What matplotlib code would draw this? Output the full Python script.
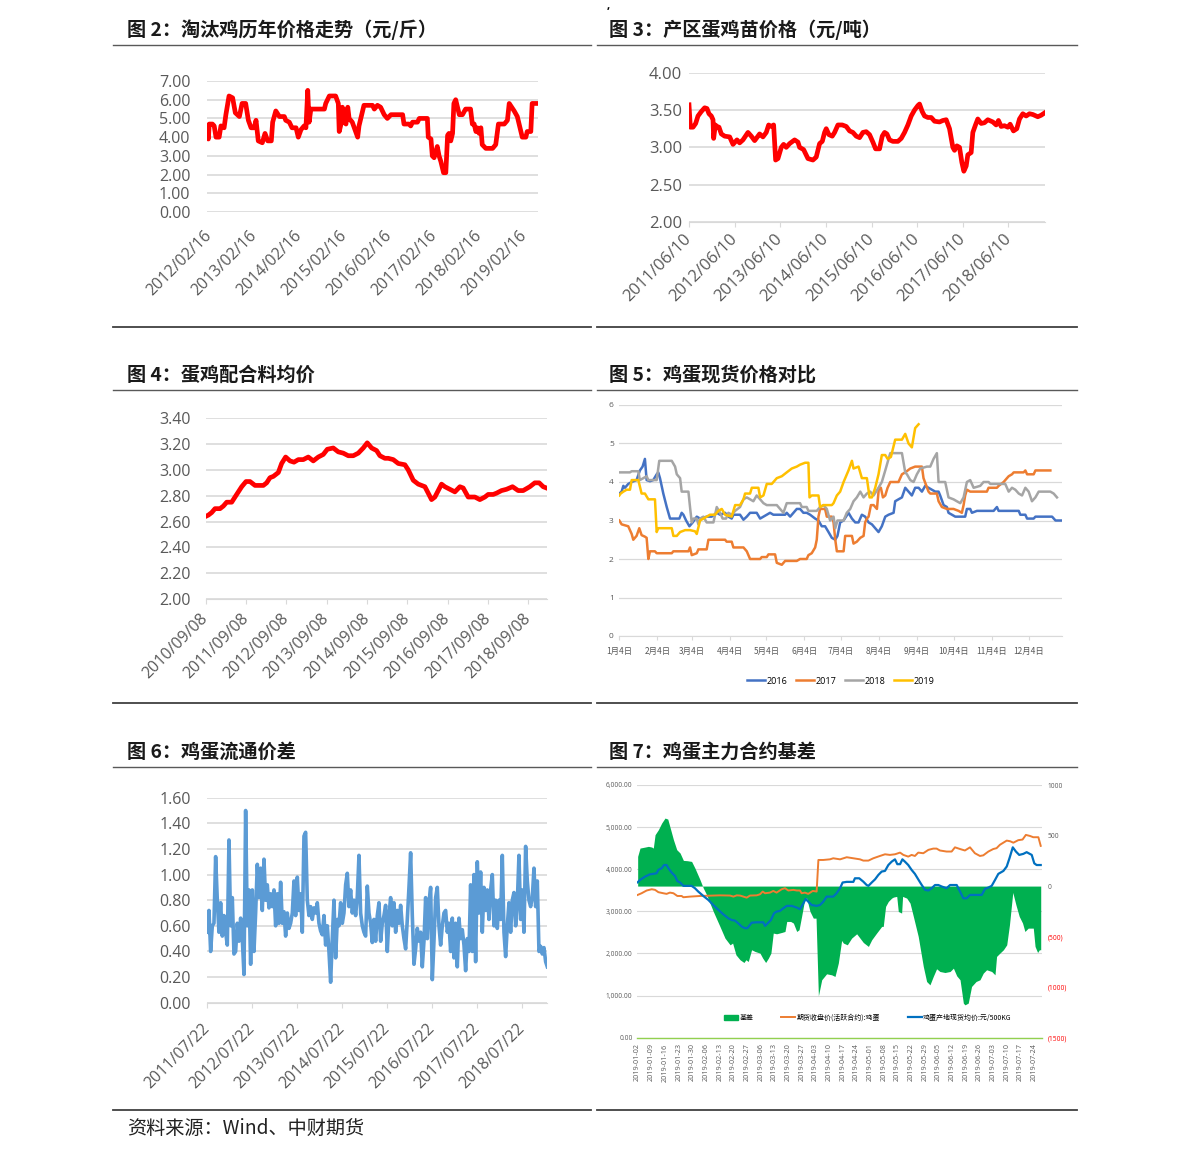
import numpy as np
import pandas as pd
import matplotlib
matplotlib.use('Agg')
import matplotlib.pyplot as plt
from matplotlib.lines import Line2D
from matplotlib.patches import Patch

plt.rcParams['font.family'] = ['Open Sans', 'Noto Sans CJK SC', 'DejaVu Sans']
CJK = ['Noto Sans CJK SC', 'DejaVu Sans']

# ---------------- data ----------------
# fig 2: culled hen price, x in decimal years
yrs2 = [2012.08, 2012.11, 2012.13, 2012.20, 2012.24, 2012.28, 2012.35, 2012.39, 2012.46, 2012.50,
        2012.57, 2012.65, 2012.71, 2012.80, 2012.86, 2012.94, 2013.00, 2013.06, 2013.13, 2013.17,
        2013.22, 2013.31, 2013.37, 2013.43, 2013.51, 2013.54, 2013.61, 2013.69, 2013.80, 2013.83,
        2013.91, 2013.97, 2014.06, 2014.11, 2014.17, 2014.24, 2014.28, 2014.32, 2014.35, 2014.39,
        2014.57, 2014.69, 2014.72, 2014.80, 2014.87, 2014.94, 2015.00, 2015.02, 2015.06, 2015.09,
        2015.13, 2015.17, 2015.21, 2015.24, 2015.31, 2015.43, 2015.46, 2015.51, 2015.57, 2015.76,
        2015.80, 2015.87, 2015.94, 2016.02, 2016.09, 2016.17, 2016.43, 2016.46, 2016.57, 2016.61,
        2016.65, 2016.76, 2016.80, 2016.98, 2017.00, 2017.06, 2017.09, 2017.13, 2017.20, 2017.24,
        2017.28, 2017.34, 2017.39, 2017.43, 2017.46, 2017.50, 2017.54, 2017.57, 2017.61, 2017.65,
        2017.69, 2017.76, 2017.83, 2017.94, 2017.98, 2018.02, 2018.06, 2018.09, 2018.13, 2018.17,
        2018.20, 2018.28, 2018.43, 2018.50, 2018.56, 2018.69, 2018.76, 2018.80, 2018.91, 2018.98,
        2019.09, 2019.17, 2019.20, 2019.28, 2019.31, 2019.44]
vals2 = [4.6, 3.9, 4.7, 4.7, 4.6, 4.0, 4.0, 4.6, 4.5, 5.2, 6.2, 6.1, 5.3, 5.1, 5.8, 5.8, 4.9, 4.5, 4.5, 4.9,
         3.8, 3.7, 4.2, 3.8, 3.8, 4.8, 5.4, 5.1, 5.1, 4.9, 4.8, 4.5, 4.5, 4.0, 4.4, 4.6, 4.5, 6.5, 4.8, 5.5,
         5.5, 5.5, 5.8, 6.2, 6.2, 6.2, 5.8, 4.3, 4.7, 5.6, 4.8, 4.7, 5.6, 5.0, 4.8, 4.0, 4.6, 5.1, 5.7, 5.7,
         5.5, 5.7, 5.6, 5.2, 5.0, 5.2, 5.2, 4.7, 4.7, 4.6, 4.8, 4.8, 5.0, 5.0, 4.0, 3.9, 3.0, 2.9, 3.5, 3.0,
         2.7, 2.1, 2.1, 4.1, 4.2, 3.8, 4.2, 5.8, 6.0, 5.6, 5.2, 5.2, 5.5, 5.5, 4.7, 4.7, 4.3, 4.5, 4.2, 4.5,
         3.6, 3.4, 3.4, 3.6, 4.7, 4.7, 4.9, 5.8, 5.4, 5.1, 4.0, 4.0, 4.3, 4.3, 5.8, 5.8]
labels2 = ['2012/02/16', '2013/02/16', '2014/02/16', '2015/02/16',
           '2016/02/16', '2017/02/16', '2018/02/16', '2019/02/16']

# fig 3: chick price, x in years after 2011/06/10
off3 = [0.000, 0.029, 0.088, 0.146, 0.197, 0.270, 0.343, 0.394, 0.438, 0.489, 0.526, 0.540, 0.577, 0.613,
        0.657, 0.708, 0.781, 0.891, 0.964, 1.051, 1.109, 1.182, 1.292, 1.365, 1.438, 1.511, 1.547, 1.620,
        1.693, 1.745, 1.803, 1.854, 1.898, 1.949, 2.022, 2.073, 2.131, 2.204, 2.314, 2.387, 2.423, 2.511,
        2.606, 2.715, 2.788, 2.861, 2.920, 2.971, 3.007, 3.066, 3.139, 3.190, 3.263, 3.358, 3.445, 3.518,
        3.591, 3.664, 3.737, 3.810, 3.883, 3.956, 4.029, 4.088, 4.175, 4.234, 4.285, 4.336, 4.394, 4.467,
        4.577, 4.650, 4.723, 4.796, 4.869, 4.942, 5.015, 5.051, 5.109, 5.161, 5.234, 5.307, 5.380, 5.489,
        5.562, 5.635, 5.708, 5.781, 5.818, 5.869, 5.927, 5.978, 6.022, 6.073, 6.109, 6.182, 6.219, 6.277,
        6.328, 6.401, 6.474, 6.547, 6.657, 6.730, 6.781, 6.839, 6.912, 6.985, 7.036, 7.109, 7.182, 7.241,
        7.314, 7.387, 7.460, 7.533, 7.642, 7.715, 7.788]
vals3 = [3.57, 3.27, 3.27, 3.32, 3.42, 3.48, 3.53, 3.52, 3.45, 3.42, 3.37, 3.12, 3.30, 3.28, 3.27, 3.18,
         3.15, 3.14, 3.04, 3.10, 3.06, 3.10, 3.20, 3.15, 3.09, 3.15, 3.18, 3.14, 3.20, 3.30, 3.28, 3.30,
         2.83, 2.85, 3.00, 3.04, 3.00, 3.05, 3.10, 3.07, 3.00, 2.97, 2.85, 2.83, 2.87, 3.05, 3.08, 3.20,
         3.25, 3.17, 3.15, 3.20, 3.30, 3.30, 3.28, 3.22, 3.20, 3.15, 3.13, 3.20, 3.21, 3.17, 3.07, 2.98,
         2.98, 3.15, 3.20, 3.18, 3.10, 3.08, 3.08, 3.12, 3.20, 3.30, 3.42, 3.50, 3.56, 3.58, 3.48, 3.42,
         3.40, 3.40, 3.35, 3.34, 3.36, 3.37, 3.25, 3.00, 2.96, 3.02, 3.00, 2.80, 2.68, 2.75, 2.90, 2.93,
         3.20, 3.30, 3.38, 3.32, 3.33, 3.37, 3.34, 3.30, 3.36, 3.28, 3.29, 3.27, 3.31, 3.22, 3.25, 3.38,
         3.45, 3.42, 3.45, 3.44, 3.41, 3.43, 3.46]
labels3 = ['2011/06/10', '2012/06/10', '2013/06/10', '2014/06/10',
           '2015/06/10', '2016/06/10', '2017/06/10', '2018/06/10']

# fig 4: layer feed price, x in years after 2010/09/08
off4 = [0, 0.066, 0.149, 0.231, 0.355, 0.438, 0.521, 0.645, 0.727, 0.810, 0.893, 1.000, 1.099, 1.223,
        1.430, 1.512, 1.595, 1.678, 1.802, 1.884, 1.983, 2.091, 2.190, 2.298, 2.421, 2.545, 2.669, 2.793,
        2.917, 3.017, 3.165, 3.289, 3.413, 3.537, 3.661, 3.785, 3.909, 4.008, 4.116, 4.240, 4.322, 4.446,
        4.529, 4.653, 4.777, 4.942, 5.025, 5.149, 5.273, 5.438, 5.521, 5.603, 5.686, 5.769, 5.851, 5.934,
        6.058, 6.182, 6.306, 6.388, 6.512, 6.678, 6.802, 6.926, 7.008, 7.132, 7.215, 7.339, 7.463, 7.612,
        7.752, 7.876, 8.041, 8.165, 8.273, 8.372, 8.455]
vals4 = [2.64, 2.65, 2.67, 2.70, 2.70, 2.72, 2.75, 2.75, 2.79, 2.83, 2.87, 2.91, 2.91, 2.88, 2.88, 2.90,
         2.94, 2.95, 2.98, 3.05, 3.10, 3.07, 3.06, 3.08, 3.08, 3.10, 3.07, 3.10, 3.12, 3.16, 3.17, 3.14,
         3.13, 3.11, 3.11, 3.13, 3.17, 3.21, 3.17, 3.15, 3.11, 3.09, 3.09, 3.08, 3.05, 3.04, 3.00, 2.92,
         2.89, 2.87, 2.82, 2.77, 2.79, 2.84, 2.89, 2.87, 2.85, 2.83, 2.87, 2.86, 2.79, 2.79, 2.77, 2.79,
         2.81, 2.81, 2.82, 2.84, 2.85, 2.87, 2.84, 2.84, 2.87, 2.90, 2.90, 2.87, 2.86]
labels4 = ['2010/09/08', '2011/09/08', '2012/09/08', '2013/09/08', '2014/09/08',
           '2015/09/08', '2016/09/08', '2017/09/08', '2018/09/08']

# fig 5: spot egg price by year, x = day of year
d16 = [4.0, 5.9, 7.3, 8.6, 11.3, 14.1, 18.1, 20.8, 23.0, 24.9, 26.3, 29.0, 31.7, 34.5, 35.8, 37.2, 39.9,
       42.7, 45.4, 48.1, 53.0, 54.9, 56.3, 58.5, 61.2, 63.9, 67.2, 69.9, 75.3, 79.4, 83.5, 86.2, 90.3,
       93.0, 95.7, 97.1, 102.5, 105.3, 108.0, 110.7, 116.1, 118.9, 121.6, 124.3, 127.0, 129.7, 131.1,
       135.2, 139.3, 140.6, 143.4, 146.1, 148.8, 151.5, 154.2, 156.9, 159.7, 163.8, 166.5, 169.2, 171.9,
       174.7, 177.4, 180.2, 182.0, 184.2, 187.0, 191.0, 193.8, 196.5, 199.2, 201.9, 204.6, 207.4, 210.1,
       212.8, 215.5, 218.2, 221.0, 223.7, 227.8, 229.1, 231.8, 234.6, 237.3, 240.0, 242.7, 245.4, 248.2,
       250.9, 253.6, 256.3, 259.0, 261.8, 264.5, 265.8, 268.6, 271.3, 272.6, 275.4, 278.1, 286.2, 287.6,
       290.3, 291.7, 295.8, 298.5, 309.4, 312.1, 313.5, 329.9, 331.2, 335.3, 336.7, 342.1, 343.5, 357.1,
       359.9, 365.2]
v16 = [3.7, 3.75, 3.9, 3.85, 3.95, 4.0, 4.05, 4.3, 4.4, 4.6, 4.05, 4.02, 4.05, 4.2, 4.25, 4.1, 3.7, 3.35,
       3.05, 3.05, 3.05, 3.2, 3.15, 3.0, 2.85, 2.95, 3.1, 3.05, 3.1, 3.1, 3.2, 3.15, 3.2, 3.1, 3.05, 3.15,
       3.15, 3.02, 3.1, 3.2, 3.2, 3.05, 3.1, 3.15, 3.2, 3.15, 3.15, 3.15, 3.15, 3.2, 3.1, 3.2, 3.3, 3.3,
       3.2, 3.2, 3.15, 3.05, 3.0, 2.85, 2.85, 2.7, 2.55, 2.5, 2.6, 2.95, 3.0, 3.2, 3.05, 2.95, 2.95, 3.15,
       3.1, 2.95, 2.9, 2.8, 2.7, 2.85, 3.1, 3.15, 3.2, 3.5, 3.55, 3.6, 3.85, 3.75, 3.65, 3.85, 3.85, 3.75,
       3.9, 3.85, 3.8, 3.75, 3.75, 3.65, 3.4, 3.35, 3.2, 3.15, 3.1, 3.1, 3.3, 3.3, 3.2, 3.25, 3.25, 3.25,
       3.35, 3.25, 3.25, 3.15, 3.15, 3.05, 3.05, 3.1, 3.1, 3.0, 3.0]
d17 = [4.0, 5.9, 11.3, 14.1, 15.4, 18.1, 20.3, 22.2, 24.9, 26.3, 27.7, 29.0, 33.1, 34.5, 46.8, 48.1, 60.4,
       61.7, 63.1, 67.2, 68.5, 75.3, 76.7, 90.3, 91.6, 95.7, 97.1, 105.3, 108.0, 110.7, 118.9, 120.2,
       124.3, 125.7, 131.1, 132.5, 136.6, 139.3, 148.8, 151.5, 156.9, 158.3, 161.0, 163.8, 165.1, 166.5,
       167.8, 171.9, 173.3, 177.4, 178.8, 180.2, 181.5, 187.0, 188.3, 193.8, 195.1, 197.8, 200.6, 203.3,
       204.6, 206.0, 207.4, 209.3, 211.5, 214.2, 215.8, 217.4, 219.1, 221.0, 222.9, 225.1, 231.8, 234.6,
       237.3, 241.4, 245.4, 250.9, 252.2, 256.3, 257.7, 263.1, 264.5, 267.2, 271.3, 276.7, 280.8, 283.5,
       284.9, 286.2, 287.6, 290.3, 303.9, 305.3, 312.1, 313.5, 317.6, 320.3, 321.7, 324.4, 325.8, 333.9,
       335.3, 336.7, 342.1, 343.5, 355.7]
v17 = [3.0, 2.9, 2.85, 2.65, 2.5, 2.6, 2.8, 2.62, 2.58, 2.55, 2.0, 2.2, 2.2, 2.15, 2.15, 2.2, 2.2, 2.3,
       2.1, 2.15, 2.25, 2.25, 2.5, 2.5, 2.45, 2.45, 2.3, 2.3, 2.2, 2.0, 2.0, 2.05, 2.05, 2.12, 2.12, 1.9,
       1.85, 1.95, 1.95, 2.0, 2.0, 2.1, 2.15, 2.3, 2.5, 3.1, 3.3, 3.3, 3.1, 3.1, 2.95, 2.5, 2.2, 2.2, 2.6,
       2.6, 2.4, 2.45, 2.55, 2.6, 2.95, 3.05, 3.1, 3.4, 3.4, 3.3, 3.85, 3.85, 3.6, 3.65, 3.85, 4.0, 4.0,
       4.2, 4.25, 4.35, 4.4, 4.4, 4.1, 3.75, 3.7, 3.7, 3.5, 3.35, 3.3, 3.3, 3.25, 3.2, 3.4, 3.65, 3.8,
       3.75, 3.75, 3.85, 3.85, 3.9, 4.0, 4.1, 4.15, 4.2, 4.25, 4.25, 4.3, 4.2, 4.2, 4.3, 4.3]
d18 = [4.0, 12.7, 14.1, 19.5, 20.8, 23.6, 26.3, 27.7, 34.5, 36.6, 46.8, 49.5, 50.9, 53.6, 54.9, 60.4,
       61.7, 63.1, 64.5, 67.2, 68.5, 69.9, 72.6, 75.3, 80.8, 83.5, 86.2, 88.3, 91.1, 93.0, 95.7, 98.5,
       102.5, 105.3, 108.0, 110.7, 113.4, 116.1, 118.9, 121.6, 124.3, 132.5, 135.2, 137.9, 140.6, 151.5,
       152.9, 156.9, 158.3, 165.1, 167.8, 170.6, 173.3, 176.0, 178.8, 180.2, 182.0, 187.0, 189.6, 192.4,
       195.1, 197.8, 200.6, 203.3, 206.0, 208.7, 211.5, 215.5, 218.2, 221.0, 223.7, 225.1, 234.6, 237.3,
       238.7, 241.4, 244.1, 246.8, 249.5, 255.0, 257.7, 260.4, 263.1, 264.5, 269.9, 272.6, 276.7, 279.4,
       282.2, 284.9, 287.6, 290.3, 293.1, 298.5, 301.2, 305.3, 306.7, 318.9, 321.7, 324.4, 327.1, 329.9,
       332.6, 335.3, 338.0, 340.7, 343.5, 346.2, 355.7, 358.4, 361.1]
v18 = [4.25, 4.25, 4.28, 4.28, 4.05, 4.1, 4.15, 4.05, 4.05, 4.55, 4.55, 4.4, 4.2, 4.1, 3.75, 3.75, 3.35,
       2.95, 3.05, 3.05, 2.9, 3.05, 3.1, 2.95, 2.95, 3.35, 3.2, 3.05, 3.05, 3.2, 3.15, 3.25, 3.35, 3.55,
       3.6, 3.55, 3.5, 3.65, 3.55, 3.45, 3.4, 3.4, 3.3, 3.2, 3.45, 3.45, 3.35, 3.35, 3.25, 3.25, 3.35, 3.4,
       3.3, 3.0, 3.1, 2.8, 3.0, 3.0, 3.2, 3.3, 3.5, 3.6, 3.75, 3.6, 3.7, 3.75, 3.65, 3.85, 4.0, 4.3, 4.6,
       4.75, 4.75, 4.25, 4.2, 4.05, 4.0, 4.2, 4.35, 4.4, 4.4, 4.6, 4.75, 4.0, 4.0, 3.6, 3.55, 3.5, 3.45,
       3.6, 4.0, 4.05, 3.85, 3.9, 4.0, 4.0, 3.95, 3.95, 3.75, 3.85, 3.8, 3.7, 3.65, 3.85, 3.75, 3.5, 3.6,
       3.75, 3.75, 3.7, 3.6]
d19 = [4.0, 5.1, 7.3, 10.0, 12.7, 14.1, 19.5, 22.2, 24.9, 27.7, 33.1, 34.5, 35.8, 46.8, 48.1, 50.9, 53.6,
       57.7, 61.7, 65.8, 67.2, 69.9, 75.3, 78.0, 82.1, 84.8, 87.6, 90.3, 95.7, 98.5, 102.5, 105.3, 106.6,
       110.7, 112.1, 117.5, 118.9, 121.6, 124.3, 128.4, 132.5, 136.6, 140.6, 144.7, 148.8, 151.5, 155.6,
       158.3, 159.2, 161.0, 166.5, 167.8, 170.6, 177.4, 178.8, 181.5, 184.2, 187.0, 191.0, 193.8, 195.1,
       199.2, 201.9, 206.0, 208.2, 210.1, 212.8, 215.5, 218.2, 221.0, 222.9, 225.6, 229.1, 234.6, 237.3,
       240.0, 242.7, 245.4, 248.2]
v19 = [3.65, 3.7, 3.75, 3.8, 3.8, 4.05, 4.05, 3.7, 3.7, 3.55, 3.55, 2.7, 2.8, 2.8, 2.6, 2.6, 2.7, 2.75,
       2.75, 2.72, 2.65, 3.0, 3.1, 3.15, 3.15, 3.25, 3.3, 3.15, 3.1, 3.4, 3.4, 3.55, 3.7, 3.7, 3.85, 3.85,
       3.6, 3.65, 3.95, 3.95, 4.1, 4.15, 4.25, 4.35, 4.4, 4.45, 4.5, 4.5, 3.6, 3.65, 3.65, 3.35, 3.4, 3.4,
       3.45, 3.65, 3.75, 4.0, 4.3, 4.55, 4.35, 4.4, 4.1, 4.1, 3.6, 3.6, 3.85, 4.2, 4.7, 4.7, 4.6, 4.65,
       5.1, 5.1, 5.25, 5.0, 4.9, 5.4, 5.5]
month_days5 = [4, 35, 63, 94, 124, 155, 185, 216, 247, 277, 308, 338]
month_labels5 = ['1月4日', '2月4日', '3月4日', '4月4日', '5月4日', '6月4日',
                 '7月4日', '8月4日', '9月4日', '10月4日', '11月4日', '12月4日']

# fig 6: circulation spread, roughly bi-weekly, 2011/07/22 .. 2019/02
vals6 = [0.55, 0.72, 0.40, 0.60, 0.62, 1.14, 0.80, 0.55, 0.78, 0.52, 0.68, 0.55, 0.45, 1.27, 0.60, 0.82,
         0.38, 0.40, 0.62, 0.48, 0.66, 0.50, 0.22, 1.50, 0.60, 0.88, 0.30, 0.88, 0.40, 0.70, 1.08, 0.82,
         1.05, 0.72, 1.12, 0.80, 0.92, 0.74, 0.85, 0.75, 0.88, 0.60, 0.85, 0.62, 0.94, 0.62, 0.71, 0.52,
         0.70, 0.58, 0.62, 0.70, 0.95, 0.68, 0.98, 0.72, 0.85, 0.55, 1.30, 1.33, 0.80, 0.68, 0.75, 0.65,
         0.74, 0.70, 0.78, 0.62, 0.56, 0.53, 0.68, 0.45, 0.60, 0.40, 0.16, 0.50, 0.80, 0.35, 0.65, 0.60,
         0.78, 0.62, 0.70, 0.92, 1.01, 0.75, 0.88, 0.70, 0.80, 0.68, 0.83, 1.15, 0.70, 0.60, 0.55, 0.52,
         0.91, 0.70, 0.62, 0.47, 0.65, 0.48, 0.68, 0.78, 0.48, 0.62, 0.68, 0.76, 0.40, 0.68, 0.82, 0.60,
         0.78, 0.55, 0.72, 0.62, 0.76, 0.60, 0.50, 0.42, 0.65, 0.90, 1.17, 0.68, 0.30, 0.42, 0.58, 0.48,
         0.55, 0.28, 0.48, 0.82, 0.50, 0.78, 0.90, 0.18, 0.48, 0.82, 0.90, 0.60, 0.45, 0.60, 0.70, 0.72,
         0.55, 0.62, 0.40, 0.66, 0.35, 0.62, 0.28, 0.66, 0.50, 0.57, 0.45, 0.25, 0.50, 0.40, 0.92, 0.40,
         1.00, 0.32, 1.10, 0.70, 1.02, 0.55, 0.90, 0.72, 0.88, 0.65, 0.88, 1.00, 0.60, 0.80, 0.58, 0.80,
         0.65, 1.15, 0.55, 0.36, 0.60, 0.78, 0.55, 0.80, 0.86, 0.60, 0.78, 1.15, 0.65, 0.88, 0.55, 1.22,
         0.95, 0.80, 0.75, 0.82, 1.05, 0.75, 0.95, 0.40, 0.44, 0.38, 0.43, 0.32, 0.28]
span6 = 7.56  # years covered by the weekly series
labels6 = ['2011/07/22', '2012/07/22', '2013/07/22', '2014/07/22',
           '2015/07/22', '2016/07/22', '2017/07/22', '2018/07/22']

# fig 7: futures / spot / basis, x in days after 2019-01-02
d_spot = [0.0, 1.2, 3.8, 6.3, 8.0, 9.7, 10.6, 12.3, 13.5, 14.8, 15.7, 17.4, 19.1, 20.3, 21.7, 23.4, 25.1,
          27.6, 29.3, 31.0, 33.6, 36.2, 38.7, 41.3, 43.8, 46.4, 48.1, 49.8, 51.5, 53.2, 54.9, 56.1, 57.5,
          58.3, 60.9, 64.3, 65.2, 66.5, 68.2, 69.8, 71.1, 72.8, 74.6, 76.3, 78.8, 81.4, 83.1, 84.8, 86.0,
          87.3, 89.1, 91.6, 93.3, 95.0, 96.7, 100.1, 101.8, 103.6, 104.9, 107.0, 110.4, 111.2, 113.4,
          115.5, 117.2, 118.1, 119.8, 121.5, 123.2, 124.9, 126.6, 128.3, 130.0, 131.7, 132.9, 134.3,
          135.5, 136.8, 138.5, 140.2, 141.9, 143.6, 145.4, 147.1, 148.8, 150.5, 152.2, 153.9, 155.6,
          158.1, 159.9, 163.3, 165.0, 166.7, 168.4, 170.1, 173.5, 176.1, 177.8, 179.5, 181.2, 182.9,
          184.6, 187.2, 188.9, 190.3, 192.0, 193.6, 195.3, 197.4, 199.1, 201.7, 203.0, 204.2, 206.3]
spot = [3690, 3745, 3825, 3880, 3890, 3905, 3985, 4025, 4100, 4100, 4025, 3920, 3840, 3720, 3685, 3605,
        3605, 3605, 3550, 3470, 3365, 3270, 3150, 3035, 2930, 2835, 2795, 2780, 2715, 2640, 2600, 2600,
        2680, 2730, 2740, 2740, 2655, 2715, 2795, 2955, 2995, 3010, 3075, 3130, 3130, 3090, 3050, 3190,
        3295, 3230, 3150, 3130, 3150, 3230, 3350, 3350, 3430, 3550, 3685, 3700, 3700, 3785, 3785, 3705,
        3625, 3605, 3685, 3760, 3865, 3945, 3960, 4100, 4180, 4235, 4120, 4120, 4235, 4180, 4100, 3985,
        3890, 3760, 3625, 3510, 3495, 3550, 3625, 3625, 3590, 3550, 3625, 3625, 3470, 3310, 3310, 3390,
        3390, 3390, 3535, 3565, 3605, 3745, 3890, 3960, 4065, 4260, 4520, 4420, 4340, 4365, 4405, 4340,
        4140, 4100, 4100]
d_fut = [0.0, 2.0, 4.6, 7.2, 8.9, 10.6, 13.1, 14.8, 16.5, 18.3, 20.3, 22.5, 23.4, 26.8, 31.9, 38.7, 42.1,
         47.3, 49.0, 50.7, 52.4, 54.1, 55.8, 57.5, 60.9, 62.6, 64.0, 65.2, 67.7, 69.4, 71.1, 73.7, 75.4,
         77.1, 79.7, 81.4, 83.1, 83.9, 85.6, 87.3, 89.6, 91.6, 92.5, 95.0, 98.4, 100.1, 103.6, 107.0,
         110.4, 113.8, 115.5, 118.1, 120.6, 124.0, 126.6, 129.1, 131.7, 134.3, 136.0, 138.5, 140.2, 141.9,
         143.6, 146.2, 148.8, 151.3, 153.0, 154.7, 158.1, 160.7, 162.4, 165.0, 167.5, 170.1, 172.6, 175.2,
         176.9, 179.5, 182.0, 183.7, 185.4, 188.9, 190.6, 192.3, 194.8, 197.0, 198.7, 200.8, 202.5, 205.1,
         206.3]
fut = [3390, 3430, 3495, 3525, 3510, 3455, 3430, 3415, 3445, 3430, 3365, 3365, 3335, 3350, 3365, 3375,
       3380, 3375, 3350, 3380, 3375, 3350, 3325, 3375, 3380, 3405, 3470, 3430, 3445, 3485, 3445, 3525,
       3550, 3495, 3510, 3495, 3495, 3430, 3445, 3415, 3485, 3470, 4220, 4220, 4235, 4260, 4235, 4285,
       4260, 4235, 4205, 4205, 4260, 4315, 4355, 4340, 4355, 4395, 4340, 4300, 4340, 4315, 4395, 4380,
       4460, 4490, 4490, 4445, 4420, 4420, 4520, 4480, 4445, 4520, 4380, 4315, 4330, 4420, 4480, 4500,
       4580, 4680, 4665, 4630, 4690, 4705, 4815, 4790, 4760, 4760, 4555]
d_basis = [0.0, 1.2, 3.8, 5.5, 7.2, 8.0, 8.9, 10.6, 12.3, 14.0, 15.4, 16.9, 18.3, 20.0, 21.7, 23.4, 25.4,
           27.6, 29.3, 31.9, 33.6, 35.3, 38.7, 42.1, 44.7, 47.3, 48.6, 50.3, 52.4, 54.4, 55.4, 56.6, 58.3,
           60.1, 62.6, 64.0, 65.5, 66.9, 68.2, 69.4, 71.1, 73.7, 75.4, 76.3, 78.3, 79.7, 81.4, 82.6, 83.9,
           85.6, 86.5, 88.2, 89.9, 91.3, 92.5, 94.2, 96.7, 99.3, 101.0, 102.7, 104.4, 105.3, 107.3, 109.5,
           112.1, 113.8, 115.5, 118.1, 119.8, 122.3, 124.9, 125.7, 126.9, 128.3, 130.0, 130.9, 132.6,
           133.4, 135.1, 135.6, 137.7, 139.4, 141.1, 143.6, 146.2, 147.9, 149.6, 151.3, 153.0, 154.7,
           157.3, 159.9, 161.6, 163.3, 165.0, 166.7, 167.5, 169.2, 170.9, 173.2, 175.2, 176.9, 178.6,
           181.2, 182.9, 183.7, 185.4, 187.2, 188.9, 190.3, 192.0, 193.6, 195.3, 197.0, 198.2, 199.9,
           202.5, 203.4, 204.7, 205.6, 206.3]
basis = [294, 376, 386, 393, 386, 376, 508, 558, 624, 673, 663, 558, 459, 360, 327, 254, 251, 244, 178,
         63, -20, -86, -251, -399, -515, -581, -564, -680, -729, -756, -729, -746, -630, -647, -663, -713,
         -756, -713, -663, -465, -472, -459, -449, -350, -350, -366, -449, -432, -300, -119, -119, -251,
         -317, -317, -1086, -927, -868, -878, -894, -762, -538, -564, -581, -515, -472, -515, -558, -597,
         -531, -465, -399, -399, -201, -152, -119, -109, -102, -251, -267, -102, -119, -168, -300, -498,
         -795, -944, -977, -894, -818, -845, -855, -845, -812, -888, -927, -1158, -1175, -1158, -993,
         -944, -927, -861, -828, -845, -878, -696, -663, -630, -581, -383, -63, -185, -300, -366, -449,
         -416, -416, -597, -657, -630, -630]
dates7 = pd.date_range('2019-01-02', periods=30, freq='7D')

# ---------------- figure ----------------
W, H = 1191, 1158
fig = plt.figure(figsize=(W / 100, H / 100), dpi=100)
GRID = '#d9d9d9'
TXT = '#595959'


def box(l, t, r, b):
    return [l / W, 1 - b / H, (r - l) / W, (b - t) / H]


def hline(y, x0, x1, lw=1.2, color='#404040'):
    fig.add_artist(Line2D([x0 / W, x1 / W], [1 - y / H, 1 - y / H], transform=fig.transFigure,
                          color=color, lw=lw))


def line_chart(rect, x, y, xlim, ylim, yticks, xticks, xlabels, color='#FF0000', lw=3.4,
               ticks=True, xpad=8, ypad=11, fs=11.5):
    n = min(len(x), len(y))
    ax = fig.add_axes(rect)
    ax.plot(x[:n], y[:n], color=color, lw=lw, solid_joinstyle='round')
    ax.set_xlim(xlim)
    ax.set_ylim(ylim)
    ax.set_yticks(yticks)
    ax.set_yticklabels([f'{v:.2f}' for v in yticks])
    ax.yaxis.grid(True, color=GRID, lw=1.2)
    ax.set_axisbelow(True)
    for s in ax.spines.values():
        s.set_visible(False)
    if ticks:
        ax.spines['bottom'].set_visible(True)
        ax.spines['bottom'].set_color(GRID)
    ax.set_xticks(xticks)
    ax.set_xticklabels(xlabels, rotation=45, ha='right', va='center', rotation_mode='anchor')
    ax.tick_params(axis='y', length=0, pad=ypad, labelsize=fs, labelcolor=TXT)
    ax.tick_params(axis='x', length=3.6 if ticks else 0, color=GRID, pad=xpad,
                   labelsize=fs, labelcolor=TXT)
    return ax


# fig 2
line_chart(box(207, 81, 538, 212), yrs2, vals2, (2012.08, 2019.44), (0, 7),
           np.arange(0, 7.01, 1.0), [2012.13 + k for k in range(8)], labels2,
           ticks=False, xpad=15, ypad=12)
# fig 3
line_chart(box(689, 72.7, 1045, 222), off3, vals3, (0, 7.8), (2, 4),
           np.arange(2, 4.01, 0.5), list(range(8)), labels3, xpad=7, ypad=5, fs=12)
# fig 4
line_chart(box(205.7, 418.3, 546.7, 599), off4, vals4, (0, 8.46), (2, 3.4),
           np.arange(2, 3.41, 0.2), list(range(9)), labels4, xpad=8.5, ypad=11)
# fig 6
x6 = np.linspace(0, span6, len(vals6))
line_chart(box(207.3, 797.7, 547.3, 1002.7), x6, vals6, (0, span6), (0, 1.6),
           np.arange(0, 1.61, 0.2), list(range(8)), labels6, color='#5B9BD5', lw=2.6,
           xpad=13, ypad=12)

# fig 5
ax5 = fig.add_axes(box(619.3, 405, 1062, 636))
for xs, ys, c, lab in [(d16, v16, '#4472C4', '2016'), (d17, v17, '#ED7D31', '2017'),
                       (d18, v18, '#A5A5A5', '2018'), (d19, v19, '#FFC000', '2019')]:
    n = min(len(xs), len(ys))
    ax5.plot(xs[:n], ys[:n], color=c, lw=1.8, label=lab)
ax5.set_xlim(4, 365.2)
ax5.set_ylim(0, 6)
ax5.set_yticks(range(7))
ax5.yaxis.grid(True, color=GRID, lw=0.9)
ax5.set_axisbelow(True)
for s in ax5.spines.values():
    s.set_visible(False)
ax5.spines['bottom'].set_visible(True)
ax5.spines['bottom'].set_color(GRID)
ax5.set_xticks(month_days5)
ax5.set_xticklabels(month_labels5, family=CJK)
ax5.tick_params(axis='y', length=0, pad=4, labelsize=6, labelcolor=TXT)
ax5.tick_params(axis='x', length=3, color=GRID, pad=5, labelsize=6, labelcolor=TXT)
ax5.legend(loc='center', bbox_to_anchor=(0.5, -0.195), ncol=4, frameon=False, fontsize=6.5,
           handlelength=2.0, handletextpad=0.15, columnspacing=1.0)

# fig 7
rect7 = box(636.7, 785, 1041.7, 1037.7)
ax7 = fig.add_axes(rect7)
ax7.set_xlim(-0.5, 206.8)
ax7.set_ylim(0, 6000)
ax7.set_yticks(np.arange(0, 6001, 1000))
ax7.set_yticklabels([f'{v:,.2f}' for v in np.arange(0, 6001, 1000)])
ax7.yaxis.grid(True, color=GRID, lw=0.8)
for s in ax7.spines.values():
    s.set_visible(False)
ax7.spines['bottom'].set_visible(True)
ax7.spines['bottom'].set_color('#92D050')
ax7.spines['bottom'].set_linewidth(1.0)
ax7.set_xticks([7 * k for k in range(len(dates7))])
ax7.set_xticklabels(dates7.strftime('%Y-%m-%d'), rotation=90, va='top', ha='center')
ax7.tick_params(axis='y', length=0, pad=3, labelsize=4.8, labelcolor=TXT)
ax7.tick_params(axis='x', length=0, pad=4, labelsize=5.2, labelcolor=TXT)

ax7r = ax7.twinx()
nb = min(len(d_basis), len(basis))
ax7r.fill_between(d_basis[:nb], 0, basis[:nb], color='#00B050', lw=0)
ax7r.set_ylim(-1500, 1000)
ax7r.set_yticks([-1500, -1000, -500, 0, 500, 1000])
ax7r.set_yticklabels(['(1500)', '(1000)', '(500)', '0', '500', '1000'])
ax7r.tick_params(axis='y', length=0, pad=4, labelsize=4.8, labelcolor=TXT)
for t, v in zip(ax7r.get_yticklabels(), [-1500, -1000, -500, 0, 500, 1000]):
    if v < 0:
        t.set_color('#FF0000')
for s in ax7r.spines.values():
    s.set_visible(False)

ax7c = fig.add_axes(rect7)
ax7c.patch.set_visible(False)
ax7c.set_xlim(ax7.get_xlim())
ax7c.set_ylim(0, 6000)
nf = min(len(d_fut), len(fut))
ns = min(len(d_spot), len(spot))
ax7c.plot(d_fut[:nf], fut[:nf], color='#ED7D31', lw=1.4)
ax7c.plot(d_spot[:ns], spot[:ns], color='#0070C0', lw=1.6)
ax7c.axis('off')
handles7 = [Patch(color='#00B050'),
            Line2D([], [], color='#ED7D31', lw=1.4),
            Line2D([], [], color='#0070C0', lw=1.6)]
ax7c.legend(handles7, ['基差', '期货收盘价(活跃合约):鸡蛋', '鸡蛋产地现货均价:元/500KG'],
            loc='center', bbox_to_anchor=(0.571, 0.078), ncol=3, frameon=False,
            prop={'family': CJK, 'size': 5}, handlelength=2.0, handleheight=0.9,
            handletextpad=0.2, columnspacing=4.0)

# titles and rules
titles = ['图 2：淘汰鸡历年价格走势（元/斤）', '图 3：产区蛋鸡苗价格（元/吨）',
          '图 4：蛋鸡配合料均价', '图 5：鸡蛋现货价格对比',
          '图 6：鸡蛋流通价差', '图 7：鸡蛋主力合约基差']
title_xy = [(127, 30), (609, 30), (127, 375), (609, 375), (127, 752), (609, 752)]
for t, (x, y) in zip(titles, title_xy):
    fig.text(x / W, 1 - y / H, t, family=CJK, weight='bold', fontsize=13.8,
             color='#1a1a1a', ha='left', va='center')

for y in [45, 390, 767]:
    hline(y, 113, 591, lw=1.0, color='#595959')
    hline(y, 597, 1077, lw=1.0, color='#595959')
for y in [327, 703, 1110]:
    hline(y, 113, 591, lw=1.3, color='#404040')
    hline(y, 597, 1077, lw=1.3, color='#404040')

fig.text(607 / W, 1 - 1 / H, ',', fontsize=8, weight='bold', ha='left', va='top')
fig.text(127 / W, 1 - 1128 / H, '资料来源：Wind、中财期货', family=CJK, fontsize=13.8,
         color='#222222', ha='left', va='center')

fig.savefig('out.png', dpi=100)
